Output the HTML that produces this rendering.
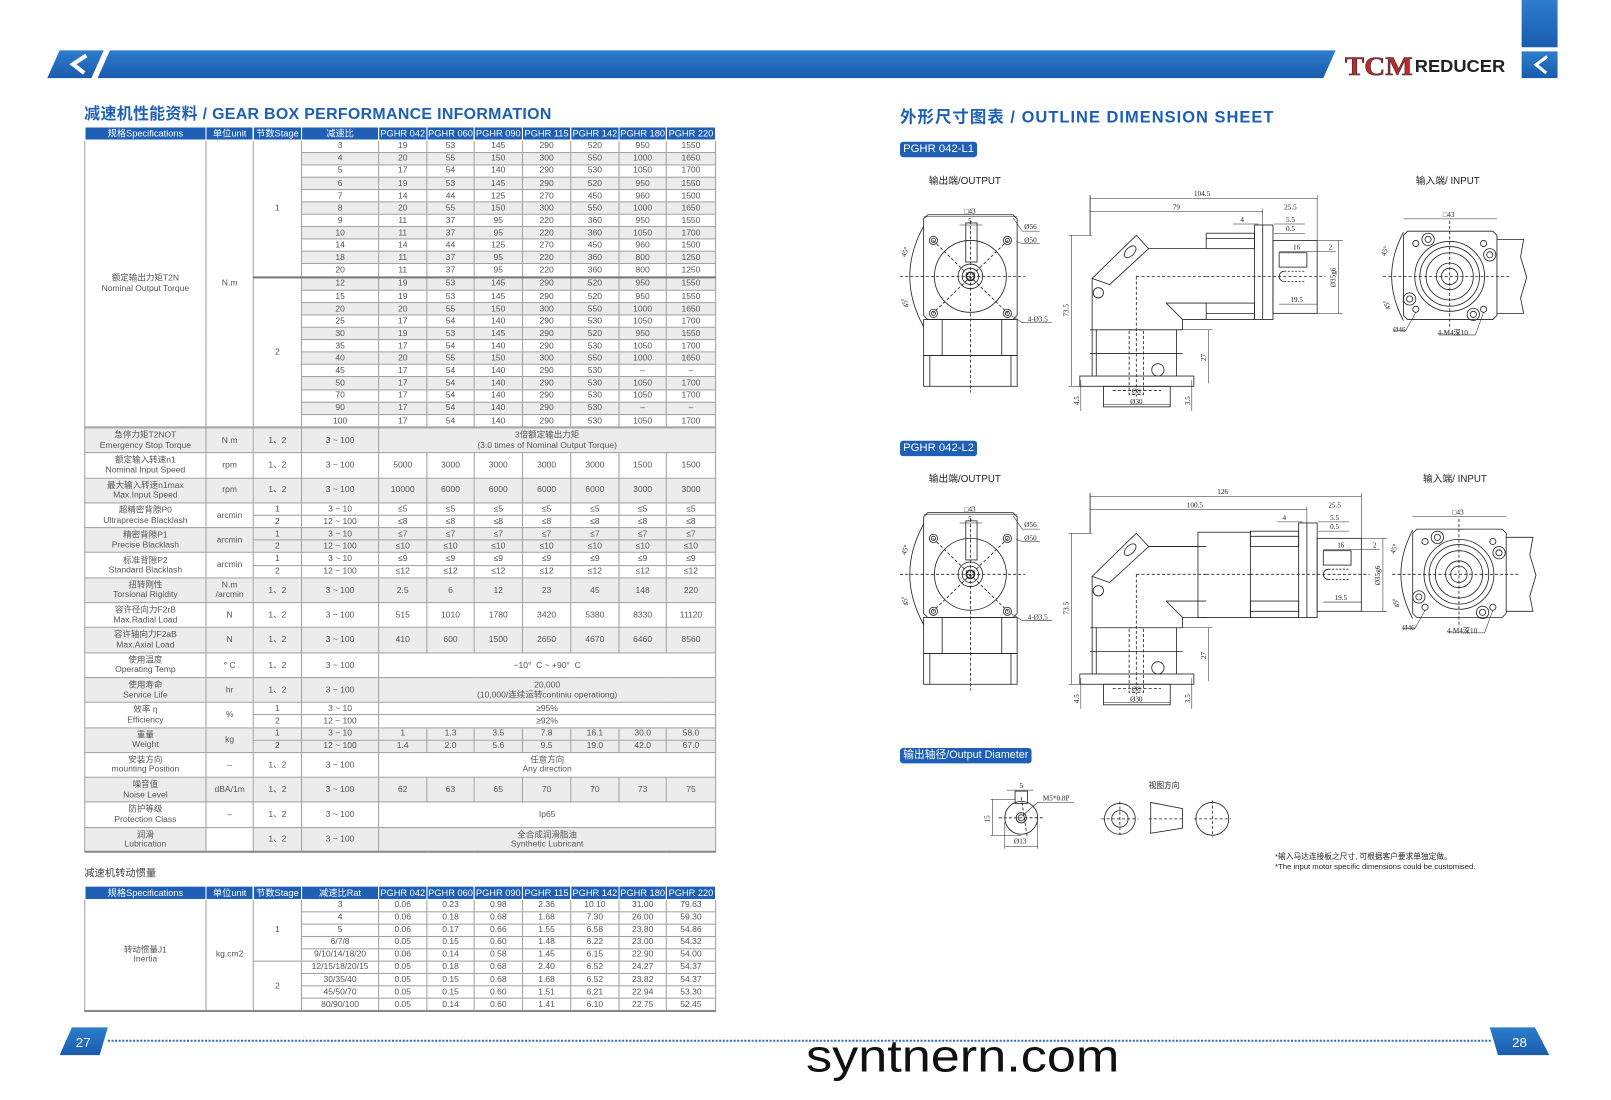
<!DOCTYPE html>
<html><head><meta charset="utf-8">
<style>
html,body{margin:0;padding:0;background:#fff;}
body{width:1611px;height:1100px;overflow:hidden;position:relative;}
#w{position:absolute;left:0;top:0;width:1568px;height:1071px;transform:scale(1.02742);transform-origin:0 0;font-family:"Liberation Sans","Noto Sans CJK SC",sans-serif;}
.a{position:absolute;}
table.t{position:absolute;left:82px;border-collapse:collapse;table-layout:fixed;width:614px;font-size:8.3px;color:#555;text-align:center;}
table.t td{border:1px solid #a0a0a0;padding:0;line-height:1.15;overflow:hidden;white-space:nowrap;}
table.t tr.h td{background:#1f5fb5;color:#fff;border:1px solid #fff;border-top:none;font-size:9px;}
table.t tr.g td{background:#ececec;}
table.t td.w{background:#fff !important;}
.tt{color:#1d5fb5;font-weight:bold;}
.badge{background:#1f5fb5;color:#fff;border-radius:3px;font-size:11px;padding:0 3px;line-height:15px;}
</style></head><body><div id="w">

<svg class="a" style="left:0;top:0" width="1568" height="1071" viewBox="0 0 1568 1071">
<defs><linearGradient id="bg" x1="0" y1="0" x2="0" y2="1"><stop offset="0" stop-color="#2d7dcc"/><stop offset="1" stop-color="#1a5cae"/></linearGradient></defs>
<polygon points="58,49 101,49 89,76 46,76" fill="url(#bg)"/>
<polyline points="84,54 71,62.5 82,71" fill="none" stroke="#fff" stroke-width="4"/>
<polygon points="107,49 1300,49 1288,76 95,76" fill="url(#bg)"/>
<rect x="1481" y="0" width="35" height="46" fill="url(#bg)"/>
<rect x="1481" y="50" width="35" height="26" fill="url(#bg)"/>
<polyline points="1506,55 1495,63 1505,71" fill="none" stroke="#fff" stroke-width="3"/>
<text x="1309" y="73" font-family="Liberation Serif" font-size="26" font-weight="bold" fill="#c0282d" stroke="#333" stroke-width="0.6" textLength="66" lengthAdjust="spacingAndGlyphs">TCM</text>
<text x="1377" y="70" font-family="Liberation Sans" font-size="17" font-weight="bold" fill="#222" textLength="88" lengthAdjust="spacingAndGlyphs">REDUCER</text>
<polygon points="70,1000 105,1000 97,1027 58,1027" fill="url(#bg)"/>
<text x="81" y="1019" font-size="13" fill="#fff" text-anchor="middle">27</text>
<line x1="105" y1="1013" x2="1452" y2="1013" stroke="#2b6cc0" stroke-width="2" stroke-dasharray="2,1.5"/>
<polygon points="1450,1000 1494,1000 1508,1027 1458,1027" fill="url(#bg)"/>
<text x="1479" y="1019" font-size="13" fill="#fff" text-anchor="middle">28</text>
<text x="937" y="1043" font-size="44" fill="#111" text-anchor="middle" textLength="305" lengthAdjust="spacingAndGlyphs">syntnern.com</text>
</svg>

<div class="a tt" style="left:82px;top:99px;font-size:15.5px;letter-spacing:0.3px;">减速机性能资料 / GEAR BOX PERFORMANCE INFORMATION</div>
<div class="a tt" style="left:876px;top:100px;font-size:16px;letter-spacing:1px;">外形尺寸图表 / OUTLINE DIMENSION SHEET</div>
<div class="a badge" style="left:876px;top:138px;">PGHR 042-L1</div>
<div class="a badge" style="left:876px;top:429px;">PGHR 042-L2</div>
<div class="a badge" style="left:876px;top:728px;font-size:10.5px;">输出轴径/Output Diameter</div>
<div class="a" style="left:82px;top:841px;font-size:10px;color:#444;">减速机转动惯量</div>
<div class="a" style="left:1241px;top:829px;font-size:7.5px;color:#222;line-height:10px;">*输入马达连接板之尺寸, 可根据客户要求单独定做。<br>*The input motor specific dimensions could be customised.</div>

<table class="t" style="top:124px;height:292px;">
<colgroup><col style="width:118px"><col style="width:46px"><col style="width:47px"><col style="width:75px"><col style="width:47px"><col style="width:46px"><col style="width:47px"><col style="width:47px"><col style="width:47px"><col style="width:46px"><col style="width:48px"></colgroup>
<tr class="h" style="height:12px"><td>规格Specifications</td><td>单位unit</td><td>节数Stage</td><td>减速比</td><td>PGHR 042</td><td>PGHR 060</td><td>PGHR 090</td><td>PGHR 115</td><td>PGHR 142</td><td>PGHR 180</td><td>PGHR 220</td></tr>
<tr><td rowspan="24" class="w" style="white-space:normal">额定输出力矩T2N<br>Nominal Output Torque</td><td rowspan="24" class="w">N.m</td><td rowspan="11" class="w" style="border-bottom:2px solid #777">1</td><td>3</td><td>19</td><td>53</td><td>145</td><td>290</td><td>520</td><td>950</td><td>1550</td></tr>
<tr class="g"><td>4</td><td>20</td><td>55</td><td>150</td><td>300</td><td>550</td><td>1000</td><td>1650</td></tr>
<tr><td>5</td><td>17</td><td>54</td><td>140</td><td>290</td><td>530</td><td>1050</td><td>1700</td></tr>
<tr class="g"><td>6</td><td>19</td><td>53</td><td>145</td><td>290</td><td>520</td><td>950</td><td>1550</td></tr>
<tr><td>7</td><td>14</td><td>44</td><td>125</td><td>270</td><td>450</td><td>960</td><td>1500</td></tr>
<tr class="g"><td>8</td><td>20</td><td>55</td><td>150</td><td>300</td><td>550</td><td>1000</td><td>1650</td></tr>
<tr><td>9</td><td>11</td><td>37</td><td>95</td><td>220</td><td>360</td><td>950</td><td>1550</td></tr>
<tr class="g"><td>10</td><td>11</td><td>37</td><td>95</td><td>220</td><td>360</td><td>1050</td><td>1700</td></tr>
<tr><td>14</td><td>14</td><td>44</td><td>125</td><td>270</td><td>450</td><td>960</td><td>1500</td></tr>
<tr class="g"><td>18</td><td>11</td><td>37</td><td>95</td><td>220</td><td>360</td><td>800</td><td>1250</td></tr>
<tr style="border-bottom:2px solid #777"><td>20</td><td>11</td><td>37</td><td>95</td><td>220</td><td>360</td><td>800</td><td>1250</td></tr>
<tr class="g"><td rowspan="13" class="w">2</td><td>12</td><td>19</td><td>53</td><td>145</td><td>290</td><td>520</td><td>950</td><td>1550</td></tr>
<tr><td>15</td><td>19</td><td>53</td><td>145</td><td>290</td><td>520</td><td>950</td><td>1550</td></tr>
<tr class="g"><td>20</td><td>20</td><td>55</td><td>150</td><td>300</td><td>550</td><td>1000</td><td>1650</td></tr>
<tr><td>25</td><td>17</td><td>54</td><td>140</td><td>290</td><td>530</td><td>1050</td><td>1700</td></tr>
<tr class="g"><td>30</td><td>19</td><td>53</td><td>145</td><td>290</td><td>520</td><td>950</td><td>1550</td></tr>
<tr><td>35</td><td>17</td><td>54</td><td>140</td><td>290</td><td>530</td><td>1050</td><td>1700</td></tr>
<tr class="g"><td>40</td><td>20</td><td>55</td><td>150</td><td>300</td><td>550</td><td>1000</td><td>1650</td></tr>
<tr><td>45</td><td>17</td><td>54</td><td>140</td><td>290</td><td>530</td><td>–</td><td>–</td></tr>
<tr class="g"><td>50</td><td>17</td><td>54</td><td>140</td><td>290</td><td>530</td><td>1050</td><td>1700</td></tr>
<tr><td>70</td><td>17</td><td>54</td><td>140</td><td>290</td><td>530</td><td>1050</td><td>1700</td></tr>
<tr class="g"><td>90</td><td>17</td><td>54</td><td>140</td><td>290</td><td>530</td><td>–</td><td>–</td></tr>
<tr><td>100</td><td>17</td><td>54</td><td>140</td><td>290</td><td>530</td><td>1050</td><td>1700</td></tr>
</table>

<table class="t" style="top:416px;height:414px;border-bottom:2px solid #888;">
<colgroup><col style="width:118px"><col style="width:46px"><col style="width:47px"><col style="width:75px"><col style="width:47px"><col style="width:46px"><col style="width:47px"><col style="width:47px"><col style="width:47px"><col style="width:46px"><col style="width:48px"></colgroup>
<tr class="g" style="height:24.3px"><td>急停力矩T2NOT<br>Emergency Stop Torque</td><td>N.m</td><td>1、2</td><td>3 ~ 100</td><td colspan="7">3倍额定输出力矩<br>(3.0 times of Nominal Output Torque)</td></tr>
<tr style="height:24.3px"><td>额定输入转速n1<br>Nominal Input Speed</td><td>rpm</td><td>1、2</td><td>3 ~ 100</td><td>5000</td><td>3000</td><td>3000</td><td>3000</td><td>3000</td><td>1500</td><td>1500</td></tr>
<tr class="g" style="height:24.3px"><td>最大输入转速n1max<br>Max.Input Speed</td><td>rpm</td><td>1、2</td><td>3 ~ 100</td><td>10000</td><td>6000</td><td>6000</td><td>6000</td><td>6000</td><td>3000</td><td>3000</td></tr>
<tr style="height:12.15px"><td rowspan="2">超精密背隙P0<br>Ultraprecise Blacklash</td><td rowspan="2">arcmin</td><td>1</td><td>3 ~ 10</td><td>≤5</td><td>≤5</td><td>≤5</td><td>≤5</td><td>≤5</td><td>≤5</td><td>≤5</td></tr>
<tr style="height:12.15px"><td>2</td><td>12 ~ 100</td><td>≤8</td><td>≤8</td><td>≤8</td><td>≤8</td><td>≤8</td><td>≤8</td><td>≤8</td></tr>
<tr class="g" style="height:12.15px"><td rowspan="2">精密背隙P1<br>Precise Blacklash</td><td rowspan="2">arcmin</td><td>1</td><td>3 ~ 10</td><td>≤7</td><td>≤7</td><td>≤7</td><td>≤7</td><td>≤7</td><td>≤7</td><td>≤7</td></tr>
<tr class="g" style="height:12.15px"><td>2</td><td>12 ~ 100</td><td>≤10</td><td>≤10</td><td>≤10</td><td>≤10</td><td>≤10</td><td>≤10</td><td>≤10</td></tr>
<tr style="height:12.15px"><td rowspan="2">标准背隙P2<br>Standard Blacklash</td><td rowspan="2">arcmin</td><td>1</td><td>3 ~ 10</td><td>≤9</td><td>≤9</td><td>≤9</td><td>≤9</td><td>≤9</td><td>≤9</td><td>≤9</td></tr>
<tr style="height:12.15px"><td>2</td><td>12 ~ 100</td><td>≤12</td><td>≤12</td><td>≤12</td><td>≤12</td><td>≤12</td><td>≤12</td><td>≤12</td></tr>
<tr class="g" style="height:24.3px"><td>扭转刚性<br>Torsional Rigidity</td><td>N.m<br>/arcmin</td><td>1、2</td><td>3 ~ 100</td><td>2.5</td><td>6</td><td>12</td><td>23</td><td>45</td><td>148</td><td>220</td></tr>
<tr style="height:24.3px"><td>容许径向力F2rB<br>Max.Radial Load</td><td>N</td><td>1、2</td><td>3 ~ 100</td><td>515</td><td>1010</td><td>1780</td><td>3420</td><td>5380</td><td>8330</td><td>11120</td></tr>
<tr class="g" style="height:24.3px"><td>容许轴向力F2aB<br>Max.Axial Load</td><td>N</td><td>1、2</td><td>3 ~ 100</td><td>410</td><td>600</td><td>1500</td><td>2650</td><td>4670</td><td>6460</td><td>8560</td></tr>
<tr style="height:24.3px"><td>使用温度<br>Operating Temp</td><td>° C</td><td>1、2</td><td>3 ~ 100</td><td colspan="7">−10°&nbsp; C ~ +90°&nbsp; C</td></tr>
<tr class="g" style="height:24.3px"><td>使用寿命<br>Service Life</td><td>hr</td><td>1、2</td><td>3 ~ 100</td><td colspan="7">20,000<br>(10,000/连续运转continiu operationg)</td></tr>
<tr style="height:12.15px"><td rowspan="2">效率 η<br>Efficiency</td><td rowspan="2">%</td><td>1</td><td>3 ~ 10</td><td colspan="7">≥95%</td></tr>
<tr style="height:12.15px"><td>2</td><td>12 ~ 100</td><td colspan="7">≥92%</td></tr>
<tr class="g" style="height:12.15px"><td rowspan="2">重量<br>Weight</td><td rowspan="2">kg</td><td>1</td><td>3 ~ 10</td><td>1</td><td>1.3</td><td>3.5</td><td>7.8</td><td>16.1</td><td>30.0</td><td>58.0</td></tr>
<tr class="g" style="height:12.15px"><td>2</td><td>12 ~ 100</td><td>1.4</td><td>2.0</td><td>5.6</td><td>9.5</td><td>19.0</td><td>42.0</td><td>67.0</td></tr>
<tr style="height:24.3px"><td>安装方向<br>mounting Position</td><td>–</td><td>1、2</td><td>3 ~ 100</td><td colspan="7">任意方向<br>Any direction</td></tr>
<tr class="g" style="height:24.3px"><td>噪音值<br>Noise Level</td><td>dBA/1m</td><td>1、2</td><td>3 ~ 100</td><td>62</td><td>63</td><td>65</td><td>70</td><td>70</td><td>73</td><td>75</td></tr>
<tr style="height:24.3px"><td>防护等级<br>Protection Class</td><td>–</td><td>1、2</td><td>3 ~ 100</td><td colspan="7">Ip65</td></tr>
<tr class="g" style="height:24.3px"><td>润滑<br>Lubrication</td><td class="w"></td><td>1、2</td><td>3 ~ 100</td><td colspan="7">全合成润滑脂油<br>Synthetic Lubricant</td></tr>
</table>

<table class="t" style="top:863px;height:122px;border-bottom:2px solid #888;">
<colgroup><col style="width:118px"><col style="width:46px"><col style="width:47px"><col style="width:75px"><col style="width:47px"><col style="width:46px"><col style="width:47px"><col style="width:47px"><col style="width:47px"><col style="width:46px"><col style="width:48px"></colgroup>
<tr class="h" style="height:12px"><td>规格Specifications</td><td>单位unit</td><td>节数Stage</td><td>减速比Rat</td><td>PGHR 042</td><td>PGHR 060</td><td>PGHR 090</td><td>PGHR 115</td><td>PGHR 142</td><td>PGHR 180</td><td>PGHR 220</td></tr>
<tr><td rowspan="9" class="w">转动惯量J1<br>Inertia</td><td rowspan="9" class="w">kg.cm2</td><td rowspan="5" class="w">1</td><td>3</td><td>0.06</td><td>0.23</td><td>0.98</td><td>2.36</td><td>10.10</td><td>31.00</td><td>79.63</td></tr>
<tr><td>4</td><td>0.06</td><td>0.18</td><td>0.68</td><td>1.68</td><td>7.30</td><td>26.00</td><td>59.30</td></tr>
<tr><td>5</td><td>0.06</td><td>0.17</td><td>0.66</td><td>1.55</td><td>6.58</td><td>23.80</td><td>54.86</td></tr>
<tr><td>6/7/8</td><td>0.05</td><td>0.15</td><td>0.60</td><td>1.48</td><td>6.22</td><td>23.00</td><td>54.32</td></tr>
<tr><td>9/10/14/18/20</td><td>0.06</td><td>0.14</td><td>0.58</td><td>1.45</td><td>6.15</td><td>22.90</td><td>54.00</td></tr>
<tr><td rowspan="4" class="w">2</td><td>12/15/18/20/15</td><td>0.05</td><td>0.18</td><td>0.68</td><td>2.40</td><td>6.52</td><td>24.27</td><td>54.37</td></tr>
<tr><td>30/35/40</td><td>0.05</td><td>0.15</td><td>0.68</td><td>1.68</td><td>6.52</td><td>23.82</td><td>54.37</td></tr>
<tr><td>45/50/70</td><td>0.05</td><td>0.15</td><td>0.60</td><td>1.51</td><td>6.21</td><td>22.94</td><td>53.30</td></tr>
<tr><td>80/90/100</td><td>0.05</td><td>0.14</td><td>0.60</td><td>1.41</td><td>6.10</td><td>22.75</td><td>52.45</td></tr>
</table>

<svg class="a" style="left:0;top:0" width="1568" height="1071" viewBox="0 0 1568 1071" font-family="Liberation Serif" font-size="7" fill="none" stroke="#222" stroke-width="0.8">
<defs>
<g id="ov">
 <polygon points="903,209 986,209 990,213 990,307 986,311 903,311 899,307 899,213"/>
 <rect x="899" y="311" width="91" height="35"/><line x1="917" y1="311" x2="917" y2="346"/><line x1="975" y1="311" x2="975" y2="346"/>
 <rect x="899" y="346" width="91" height="30"/><line x1="905" y1="346" x2="905" y2="376"/><line x1="984" y1="346" x2="984" y2="376"/>
 <circle cx="944.5" cy="269" r="35"/><circle cx="944.5" cy="269" r="12"/><circle cx="944.5" cy="269" r="8"/><circle cx="944.5" cy="269" r="4" stroke-width="1.5"/>
 <circle cx="908.5" cy="234" r="4"/><circle cx="908.5" cy="234" r="2"/><circle cx="980.5" cy="234" r="4"/><circle cx="980.5" cy="234" r="2"/>
 <circle cx="908.5" cy="305" r="4"/><circle cx="908.5" cy="305" r="2"/><circle cx="980.5" cy="305" r="4"/><circle cx="980.5" cy="305" r="2"/>
 <rect x="940" y="217" width="11" height="38"/>
 <g stroke-dasharray="3,2"><line x1="876" y1="269" x2="998" y2="269"/><line x1="944.5" y1="215" x2="944.5" y2="382"/><line x1="908" y1="234" x2="981" y2="305"/><line x1="981" y1="234" x2="908" y2="305"/></g>
 <path d="M899,220 Q872,269 899,318"/>
 <line x1="899" y1="211" x2="990" y2="211" stroke-width="0.5"/>
 <line x1="934" y1="219" x2="956" y2="219" stroke-width="0.5"/>
 <polyline points="986,212 995,225 1012,225" stroke-width="0.5"/><polyline points="989,235 995,237 1012,237" stroke-width="0.5"/><polyline points="984,307 995,314 1024,314" stroke-width="0.5"/>
</g>
<g id="svL">
 <line x1="1061" y1="190" x2="1061" y2="229"/>
 <polygon points="1063,271 1106,229 1118,242 1080,277"/><ellipse cx="1100" cy="245" rx="7" ry="4" transform="rotate(-45 1100 245)"/>
 <line x1="1118" y1="242" x2="1174" y2="242"/>
 <line x1="1063" y1="271" x2="1063" y2="366"/>
 <polyline points="1135,295 1151,311 1151,321"/><line x1="1135" y1="295" x2="1174" y2="295"/><line x1="1151" y1="311" x2="1174" y2="311"/>
 <line x1="1061" y1="321" x2="1151" y2="321"/><line x1="1061" y1="344" x2="1151" y2="344"/>
 <line x1="1067" y1="321" x2="1067" y2="366"/><line x1="1145" y1="321" x2="1145" y2="366"/>
 <rect x="1051" y="366" width="111" height="10"/><rect x="1074" y="376" width="65" height="20"/>
 <circle cx="1069" cy="285" r="5"/><circle cx="1127" cy="360" r="6"/>
 <g stroke-dasharray="3,2"><line x1="1106" y1="269" x2="1174" y2="269"/><line x1="1106" y1="269" x2="1106" y2="386"/><rect x="1099" y="321" width="14" height="63"/><line x1="1083" y1="380" x2="1130" y2="380"/></g>
 <g stroke-width="0.5"><line x1="1061" y1="193" x2="1282" y2="193"/><line x1="1061" y1="206" x2="1229" y2="206"/>
 <line x1="1043" y1="229" x2="1043" y2="376"/><line x1="1040" y1="229" x2="1063" y2="229"/><line x1="1040" y1="376" x2="1051" y2="376"/>
 <line x1="1176" y1="321" x2="1176" y2="373"/><line x1="1151" y1="321" x2="1180" y2="321"/>
 <line x1="1052" y1="370" x2="1052" y2="400"/><line x1="1160" y1="370" x2="1160" y2="400"/><line x1="1074" y1="394" x2="1139" y2="394"/></g>
</g>
<g id="svR">
 <rect x="1174" y="227" width="47" height="15"/><rect x="1174" y="295" width="47" height="16"/><line x1="1174" y1="232" x2="1221" y2="232"/><line x1="1174" y1="305" x2="1221" y2="305"/>
 <rect x="1221" y="219" width="18" height="92"/><line x1="1229" y1="219" x2="1229" y2="311"/>
 <rect x="1239" y="234" width="43" height="71"/><rect x="1245" y="246" width="27" height="14"/>
 <line x1="1250" y1="264" x2="1270" y2="264" stroke-dasharray="2,1.5"/><line x1="1250" y1="274" x2="1270" y2="274" stroke-dasharray="2,1.5"/><path d="M1250,264 a5,5 0 0 0 0,10"/>
 <line x1="1174" y1="269" x2="1290" y2="269" stroke-dasharray="3,2"/>
 <g stroke-width="0.5"><line x1="1282" y1="190" x2="1282" y2="234"/><line x1="1229" y1="203" x2="1229" y2="219"/><line x1="1303" y1="234" x2="1303" y2="305"/><line x1="1282" y1="234" x2="1307" y2="234"/><line x1="1282" y1="305" x2="1307" y2="305"/>
 <line x1="1245" y1="245" x2="1300" y2="245"/><line x1="1245" y1="296" x2="1282" y2="296"/><line x1="1200" y1="218" x2="1225" y2="218"/><line x1="1240" y1="227" x2="1270" y2="227"/><line x1="1240" y1="218" x2="1270" y2="218"/></g>
</g>
<g id="iv">
 <polygon points="1370,225 1453,225 1457,229 1457,307 1453,311 1370,311 1366,307 1366,229"/>
 <polyline points="1457,233 1483,233 1480,250 1486,270 1480,290 1483,305 1457,305"/>
 <circle cx="1411" cy="269" r="34"/><circle cx="1411" cy="269" r="29"/><circle cx="1411" cy="269" r="23"/><circle cx="1411" cy="269" r="13"/><circle cx="1411" cy="269" r="8"/>
 <circle cx="1378" cy="237" r="3"/><circle cx="1444" cy="237" r="3"/><circle cx="1378" cy="301" r="3"/><circle cx="1444" cy="301" r="3"/>
 <circle cx="1390" cy="233" r="6"/><circle cx="1390" cy="233" r="3"/><circle cx="1450" cy="248" r="6"/><circle cx="1450" cy="248" r="3"/>
 <circle cx="1372" cy="291" r="6"/><circle cx="1372" cy="291" r="3"/><circle cx="1434" cy="306" r="6"/><circle cx="1434" cy="306" r="3"/>
 <g stroke-dasharray="3,2"><line x1="1346" y1="269" x2="1470" y2="269"/><line x1="1411" y1="215" x2="1411" y2="318"/></g>
 <path d="M1366,226 Q1343,269 1366,312"/>
 <g stroke-width="0.5"><line x1="1366" y1="213" x2="1457" y2="213"/><polyline points="1378,304 1368,322 1356,322"/><polyline points="1444,304 1436,326 1400,326"/></g>
</g>
</defs>
<use href="#ov"/><use href="#svL"/><use href="#svR"/><use href="#iv"/>
<use href="#ov" transform="translate(0,290)"/><use href="#svL" transform="translate(0,290)"/><use href="#svR" transform="translate(43,290)"/><use href="#iv" transform="translate(9,290)"/>
<g transform="translate(0,290)"><rect x="1166" y="228" width="51" height="83"/><line x1="1118" y1="242" x2="1166" y2="242"/><line x1="1174" y1="269" x2="1217" y2="269" stroke-dasharray="3,2"/><line x1="1282" y1="193" x2="1325" y2="193" stroke-width="0.5"/><line x1="1229" y1="206" x2="1272" y2="206" stroke-width="0.5"/></g>

<g fill="#222" stroke="none" font-family="Liberation Sans,Noto Sans CJK SC,sans-serif" font-size="9.5">
<text x="904" y="179">输出端/OUTPUT</text><text x="1378" y="179">输入端/ INPUT</text>
<text x="904" y="469">输出端/OUTPUT</text><text x="1385" y="469">输入端/ INPUT</text>
<text x="1118" y="767" font-size="7.5">视图方向</text>
</g>
<g fill="#222" stroke="none" text-anchor="middle">
<text x="944" y="208">□43</text><text x="944" y="217">5</text><text x="1003" y="223">Ø56</text><text x="1003" y="236">Ø50</text><text x="1010" y="313">4-Ø3.5</text>
<text transform="translate(883,246) rotate(-70)">45°</text><text transform="translate(883,294) rotate(-110)">45°</text>
<text x="1170" y="191">104.5</text><text x="1145" y="204">79</text><text x="1256" y="204">25.5</text><text x="1209" y="216">4</text><text x="1256" y="216">5.5</text><text x="1256" y="225">0.5</text>
<text x="1262" y="243">16</text><text x="1295" y="243">2</text><text x="1262" y="294">19.5</text>
<text transform="translate(1040,302) rotate(-90)">73.5</text><text transform="translate(1174,348) rotate(-90)">27</text><text transform="translate(1300,270) rotate(-90)">Ø35g6</text>
<text x="1106" y="383">Ø8</text><text x="1106" y="393">Ø30</text><text transform="translate(1050,390) rotate(-90)">4.5</text><text transform="translate(1158,390) rotate(-90)">3.5</text>
<text x="1410" y="211">□43</text><text x="1362" y="323">Ø46</text><text x="1414" y="326">4-M4深10</text>
<text transform="translate(1350,245) rotate(-70)">45°</text><text transform="translate(1352,296) rotate(-110)">45°</text>
<text x="944" y="498">□43</text><text x="944" y="507">5</text><text x="1003" y="513">Ø56</text><text x="1003" y="526">Ø50</text><text x="1010" y="603">4-Ø3.5</text>
<text transform="translate(883,536) rotate(-70)">45°</text><text transform="translate(883,584) rotate(-110)">45°</text>
<text x="1190" y="481">126</text><text x="1163" y="494">100.5</text><text x="1299" y="494">25.5</text><text x="1250" y="506">4</text><text x="1299" y="506">5.5</text><text x="1299" y="515">0.5</text>
<text x="1305" y="533">16</text><text x="1338" y="533">2</text><text x="1305" y="584">19.5</text>
<text transform="translate(1040,592) rotate(-90)">73.5</text><text transform="translate(1174,638) rotate(-90)">27</text><text transform="translate(1343,560) rotate(-90)">Ø35g6</text>
<text x="1106" y="673">Ø8</text><text x="1106" y="683">Ø30</text><text transform="translate(1050,680) rotate(-90)">4.5</text><text transform="translate(1158,680) rotate(-90)">3.5</text>
<text x="1419" y="501">□43</text><text x="1371" y="613">Ø46</text><text x="1423" y="616">4-M4深10</text>
<text transform="translate(1359,535) rotate(-70)">45°</text><text transform="translate(1361,586) rotate(-110)">45°</text>
<text x="994" y="767">5</text><text x="1028" y="779">M5*0.8P</text><text transform="translate(963,797) rotate(-90)">15</text><text x="993" y="821">Ø13</text>
</g>
<circle cx="994" cy="796" r="16"/><circle cx="994" cy="796" r="5"/><circle cx="994" cy="796" r="3"/>
<rect x="988" y="770" width="12" height="12"/>
<g stroke-dasharray="3,2"><line x1="972" y1="796" x2="1016" y2="796"/><line x1="994" y1="776" x2="1000" y2="816"/></g>
<g stroke-width="0.5"><line x1="966" y1="778" x2="966" y2="813"/><line x1="964" y1="778" x2="988" y2="778"/><line x1="964" y1="813" x2="994" y2="813"/><line x1="978" y1="824" x2="1010" y2="824"/><line x1="978" y1="800" x2="978" y2="826"/><line x1="1010" y1="800" x2="1010" y2="826"/><line x1="980" y1="769" x2="1006" y2="769"/><polyline points="996,793 1010,781 1045,781"/></g>
<circle cx="1090" cy="797" r="15"/><circle cx="1090" cy="797" r="8"/>
<polygon points="1120,781 1151,787 1151,806 1120,811"/>
<circle cx="1180" cy="797" r="16"/>
<g stroke-dasharray="3,2"><line x1="1072" y1="797" x2="1108" y2="797"/><line x1="1090" y1="780" x2="1090" y2="814"/><line x1="1118" y1="797" x2="1153" y2="797"/><line x1="1162" y1="797" x2="1198" y2="797"/><line x1="1180" y1="779" x2="1180" y2="815"/></g>
</svg>
</div></body></html>
